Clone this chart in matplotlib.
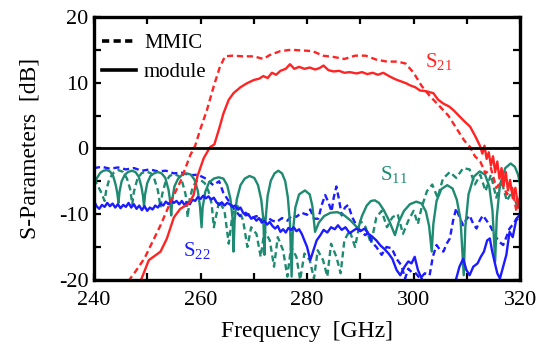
import matplotlib
matplotlib.use("Agg")
import matplotlib.pyplot as plt
from matplotlib.lines import Line2D
from matplotlib.ticker import MultipleLocator

plt.rcParams['font.family'] = ['Liberation Serif', 'DejaVu Serif']
plt.rcParams['mathtext.fontset'] = 'custom'
plt.rcParams['mathtext.rm'] = 'Liberation Serif'
plt.rcParams['mathtext.it'] = 'Liberation Serif:italic'
plt.rcParams['axes.unicode_minus'] = False

# S21 gain, MMIC on-wafer (dashed) and packaged module (solid)
s21_mmic = [(245.5, -21.5), (246.2, -20.5), (248.0, -18.5), (249.5, -16.7), (251.0, -14.2),
            (252.5, -11.7), (254.4, -8.1), (256.2, -5.1), (258.1, -1.0), (259.0, 0.4),
            (260.0, 3.0), (261.2, 5.8), (262.5, 9.5), (263.6, 12.3), (264.6, 14.0),
            (266.0, 14.1), (268.0, 14.0), (270.0, 14.0), (271.8, 13.6), (273.0, 14.2),
            (275.0, 14.8), (277.0, 15.0), (279.0, 14.9), (281.0, 14.8), (283.0, 14.1),
            (285.0, 13.9), (287.0, 13.6), (289.0, 14.1), (291.0, 14.1), (293.0, 13.5),
            (295.0, 13.2), (297.0, 13.2), (298.5, 12.9), (300.0, 11.5), (301.5, 9.5),
            (303.0, 8.0), (305.0, 6.3), (306.5, 5.0), (308.0, 3.1), (309.5, 1.2),
            (310.6, 0.2), (311.5, -1.2), (312.5, -2.0), (313.5, -3.8), (314.5, -3.0),
            (315.5, -6.0), (316.5, -5.0), (317.5, -7.0), (318.5, -6.0), (319.3, -9.6),
            (320.0, -8.0)]

s21_module = [(248.2, -21.5), (248.7, -20.3), (250.3, -17.0), (251.5, -16.3), (252.5, -15.7),
              (253.7, -13.7), (255.0, -10.5), (256.2, -9.2), (257.8, -8.4), (258.7, -7.1),
              (259.4, -4.3), (260.6, -1.5), (261.8, 0.2), (262.6, 0.6), (263.5, 3.0),
              (264.3, 5.3), (265.3, 7.4), (266.2, 8.4), (267.5, 9.3), (268.7, 9.9),
              (270.0, 10.4), (271.0, 10.6), (271.8, 11.0), (272.6, 10.7), (273.4, 11.5),
              (274.2, 11.2), (275.0, 11.8), (276.0, 12.1), (276.8, 12.8), (277.6, 12.1),
              (278.5, 12.4), (279.5, 12.1), (280.5, 12.3), (281.5, 12.0), (282.3, 12.2),
              (283.1, 12.6), (284.0, 11.9), (285.0, 11.7), (286.0, 11.8), (287.0, 11.5),
              (288.0, 11.6), (289.3, 11.4), (290.3, 11.6), (291.3, 11.3), (292.3, 11.5),
              (293.3, 11.2), (294.3, 11.5), (295.6, 10.9), (296.6, 10.5), (297.6, 10.2),
              (298.6, 9.9), (299.3, 9.6), (300.3, 9.3), (301.2, 8.8), (302.3, 8.7),
              (303.7, 8.4), (304.6, 7.4), (305.6, 6.8), (306.6, 6.4), (307.5, 5.8),
              (308.1, 5.3), (309.3, 4.3), (310.6, 3.3), (311.6, 1.8), (312.5, 0.3),
              (312.9, -0.8), (313.3, 0.4), (313.7, -1.6), (314.1, -0.6), (314.5, -2.6),
              (314.9, -1.2), (315.3, -3.6), (315.7, -2.0), (316.1, -4.6), (316.5, -3.0),
              (316.9, -5.6), (317.3, -3.6), (317.7, -6.4), (318.1, -4.8), (318.6, -7.6),
              (319.1, -6.0), (319.6, -8.8), (320.0, -7.2)]

# S11 input reflection
s11_module = [(240.0, -6.0), (240.5, -4.6), (241.2, -3.7), (241.8, -3.4), (242.4, -3.3),
              (243.0, -3.5), (243.6, -4.2), (244.1, -5.6), (244.4, -6.9), (244.6, -8.3),
              (244.8, -6.6), (245.2, -5.0), (245.8, -4.0), (246.4, -3.6), (247.1, -3.4),
              (247.8, -3.6), (248.4, -4.3), (248.9, -5.8), (249.2, -7.2), (249.4, -8.8),
              (249.6, -7.0), (250.0, -5.3), (250.6, -4.2), (251.3, -3.8), (252.0, -3.6),
              (252.7, -3.8), (253.4, -4.5), (254.0, -6.3), (254.3, -8.0), (254.5, -10.2),
              (254.7, -7.8), (255.1, -5.8), (255.8, -4.6), (256.6, -4.0), (257.4, -3.8),
              (258.2, -4.0), (258.9, -4.8), (259.5, -6.5), (259.9, -8.8), (260.2, -12.0),
              (260.4, -9.0), (260.9, -6.6), (261.6, -5.2), (262.5, -4.6), (263.4, -4.4),
              (264.3, -4.6), (265.0, -5.6), (265.6, -7.6), (266.0, -10.5), (266.2, -15.7),
              (266.4, -11.0), (266.8, -7.8), (267.5, -5.6), (268.3, -4.6), (269.2, -4.2),
              (270.1, -4.5), (270.8, -5.6), (271.4, -7.8), (271.8, -10.8), (272.0, -16.2),
              (272.2, -11.0), (272.6, -7.2), (273.2, -4.9), (273.9, -3.8), (274.6, -3.4),
              (275.3, -3.8), (275.9, -5.0), (276.4, -7.5), (276.8, -11.5), (277.1, -19.5),
              (277.3, -13.0), (277.8, -9.0), (278.5, -7.0), (279.6, -6.4), (280.5, -7.0),
              (281.0, -8.8), (281.5, -12.7), (282.2, -11.3), (283.2, -10.3), (284.4, -9.8),
              (285.7, -9.7), (287.0, -10.2), (288.2, -11.0), (289.6, -12.2), (290.3, -10.3),
              (291.2, -8.7), (292.0, -8.0), (292.7, -7.9), (293.5, -8.3), (294.4, -9.4),
              (295.4, -11.0), (296.5, -13.2), (297.2, -11.2), (298.2, -9.5), (299.3, -8.5),
              (300.5, -8.1), (301.5, -8.4), (302.3, -9.6), (302.9, -11.8), (303.4, -15.7),
              (303.7, -11.5), (304.3, -8.0), (305.2, -6.2), (306.3, -5.6), (307.3, -6.1),
              (308.1, -7.8), (308.8, -10.8), (309.4, -19.3), (309.7, -12.0), (310.3, -7.0),
              (311.3, -4.3), (312.4, -3.5), (313.4, -4.0), (314.2, -5.8), (314.8, -9.5),
              (315.3, -17.2), (315.6, -10.5), (316.2, -5.5), (317.2, -3.0), (318.2, -2.3),
              (319.0, -2.8), (319.6, -4.0), (320.0, -5.5)]

s11_mmic = [(240.0, -4.6), (240.6, -5.5), (241.3, -6.6), (241.8, -7.6), (242.0, -8.0),
            (242.3, -6.4), (242.9, -4.6), (243.7, -3.7), (244.6, -3.3), (245.5, -3.6),
            (246.2, -4.6), (246.8, -6.2), (247.2, -8.5), (247.5, -6.6), (248.1, -4.8),
            (248.9, -3.8), (249.8, -3.5), (250.7, -3.8), (251.4, -4.8), (252.0, -6.4),
            (252.5, -9.0), (252.8, -7.0), (253.4, -5.2), (254.2, -4.2), (255.0, -3.9),
            (255.9, -4.2), (256.6, -5.2), (257.2, -7.0), (257.6, -10.5), (257.9, -8.0),
            (258.5, -6.0), (259.2, -5.0), (260.0, -4.8), (260.8, -5.3), (261.5, -6.5),
            (262.1, -8.5), (262.5, -12.0), (263.5, -8.0), (264.5, -9.5), (265.3, -14.5),
            (266.0, -10.0), (267.0, -8.8), (268.0, -11.0), (268.8, -15.0), (269.5, -12.0),
            (270.5, -13.0), (271.3, -16.5), (272.0, -12.5), (273.0, -14.0), (273.8, -18.0),
            (274.5, -13.5), (275.5, -15.5), (276.3, -19.5), (277.0, -15.0), (278.0, -16.5),
            (278.7, -20.0), (279.5, -16.0), (280.5, -17.0), (281.3, -19.8), (282.0, -15.5),
            (283.0, -17.0), (283.8, -19.5), (284.5, -14.5), (285.5, -16.5), (286.3, -19.0),
            (287.0, -14.0), (288.0, -12.5), (289.0, -15.0), (290.0, -11.0), (291.0, -12.0),
            (292.0, -14.5), (293.0, -10.5), (294.0, -9.5), (295.0, -12.0), (296.0, -10.5),
            (297.0, -10.0), (298.0, -13.0), (299.0, -11.0), (300.0, -9.5), (300.8, -11.5),
            (301.5, -9.0), (302.5, -6.5), (303.5, -5.5), (304.5, -7.5), (305.5, -4.6),
            (306.8, -3.6), (308.0, -4.5), (309.3, -3.0), (310.5, -3.2), (311.5, -5.5),
            (312.5, -4.0), (313.5, -6.5), (314.5, -4.0), (315.5, -7.5), (316.5, -5.0),
            (317.5, -8.0), (318.5, -6.5), (319.5, -9.0), (320.0, -8.0)]

# S22 output reflection
s22_module = [(240.0, -8.0), (240.5, -8.8), (241.0, -9.2), (241.5, -8.6), (242.0, -8.9),
              (242.5, -8.3), (243.0, -8.8), (243.5, -8.4), (244.0, -9.0), (244.5, -8.5),
              (245.0, -9.1), (245.5, -8.6), (246.0, -8.9), (246.5, -8.3), (247.0, -9.0),
              (247.5, -8.5), (248.0, -9.2), (248.5, -8.7), (249.0, -9.4), (249.5, -8.8),
              (250.0, -9.5), (250.5, -9.0), (251.0, -9.3), (251.5, -8.7), (252.0, -9.0),
              (252.5, -8.4), (253.0, -8.7), (253.5, -8.1), (254.0, -8.5), (254.5, -7.9),
              (255.0, -8.3), (255.5, -8.0), (256.0, -8.5), (256.5, -8.0), (257.0, -8.6),
              (257.5, -8.2), (258.0, -8.5), (258.5, -7.8), (259.0, -8.0), (259.5, -7.4),
              (260.0, -7.7), (260.5, -7.2), (261.0, -7.6), (261.5, -7.3), (262.0, -7.8),
              (262.5, -7.5), (263.0, -8.2), (263.5, -8.6), (264.0, -8.2), (264.5, -8.7),
              (265.0, -8.3), (265.5, -8.5), (266.0, -8.9), (266.5, -8.7), (267.0, -9.3),
              (267.5, -9.0), (268.0, -9.8), (268.5, -10.2), (269.0, -10.0), (269.5, -10.7),
              (270.0, -10.5), (270.5, -11.0), (271.0, -10.6), (271.5, -11.3), (272.0, -11.0),
              (272.5, -11.6), (273.0, -11.2), (273.5, -11.8), (274.0, -12.2), (274.5, -11.8),
              (275.0, -12.7), (275.5, -12.3), (276.0, -12.8), (276.5, -12.1), (277.0, -12.4),
              (277.5, -12.0), (278.0, -12.6), (278.5, -12.3), (279.0, -13.0), (279.5, -14.0),
              (280.0, -15.0), (280.6, -17.0), (281.2, -15.5), (281.8, -14.0), (282.5, -13.2),
              (283.1, -12.4), (283.8, -12.8), (284.5, -12.0), (285.2, -12.3), (285.8, -11.7),
              (286.5, -12.4), (287.2, -12.0), (288.0, -12.9), (288.7, -12.5), (289.3, -12.2),
              (290.0, -12.6), (290.8, -12.2), (291.5, -13.0), (292.2, -13.4), (293.0, -14.0),
              (293.8, -14.8), (294.5, -15.3), (295.3, -16.0), (296.0, -16.8), (296.8, -18.5),
              (297.5, -19.3), (298.3, -18.0), (299.0, -17.2), (299.6, -17.5), (300.2, -16.5),
              (300.8, -18.5), (301.5, -19.8), (302.0, -21.0), (307.5, -21.0), (308.0, -19.8),
              (308.6, -18.0), (309.3, -16.8), (309.9, -18.5), (310.5, -19.3), (311.2, -18.0),
              (312.0, -17.5), (312.6, -16.5), (313.2, -15.7), (313.8, -14.0), (314.3, -13.7),
              (314.7, -15.5), (315.2, -17.3), (315.7, -19.0), (316.2, -19.8), (316.8, -18.0),
              (317.4, -16.2), (318.0, -12.7), (318.6, -13.5), (319.3, -10.7), (320.0, -10.0)]

s22_mmic = [(240.0, -3.0), (241.5, -2.8), (243.0, -3.1), (244.5, -2.9), (246.0, -3.2),
            (247.5, -3.0), (249.0, -3.4), (250.5, -3.2), (252.0, -3.5), (253.5, -3.4),
            (255.0, -3.8), (256.5, -3.7), (258.0, -4.1), (259.5, -4.0), (261.0, -4.6),
            (262.4, -5.6), (263.5, -5.0), (264.3, -6.8), (265.3, -8.0), (266.3, -9.2),
            (267.4, -10.3), (268.5, -9.8), (269.5, -10.6), (270.5, -10.3), (271.5, -10.9),
            (272.5, -10.5), (273.5, -11.0), (274.3, -11.2), (275.3, -10.6), (276.3, -11.0),
            (277.2, -10.2), (278.0, -10.4), (279.0, -9.8), (280.0, -10.1), (280.6, -9.3),
            (281.3, -10.7), (282.1, -10.7), (282.8, -8.5), (283.4, -7.1), (284.0, -8.2),
            (284.6, -9.6), (285.0, -7.5), (285.5, -5.8), (286.0, -7.8), (286.5, -10.2),
            (287.1, -9.0), (287.7, -8.6), (288.5, -10.5), (289.3, -11.8), (290.0, -12.5),
            (290.9, -13.2), (291.5, -12.8), (292.1, -14.2), (293.0, -15.0), (294.0, -16.2),
            (294.9, -15.0), (295.9, -15.2), (296.8, -16.8), (297.7, -17.8), (298.4, -19.8),
            (299.0, -18.3), (299.6, -18.8), (300.4, -19.0), (301.2, -19.8), (302.1, -19.0),
            (303.0, -19.3), (303.6, -16.5), (304.3, -14.7), (305.0, -15.5), (305.6, -15.7),
            (306.2, -14.5), (306.8, -13.7), (307.4, -11.0), (308.0, -9.1), (308.6, -10.5),
            (309.3, -11.7), (309.9, -10.8), (310.5, -10.2), (311.2, -11.5), (311.8, -12.2),
            (312.4, -11.0), (313.0, -10.2), (313.7, -11.0), (314.3, -11.7), (315.0, -12.8),
            (315.6, -13.7), (316.2, -14.3), (316.8, -14.7), (317.4, -13.5), (318.0, -12.2),
            (318.7, -11.5), (319.3, -10.7), (320.0, -11.2)]

red = '#ff2424'
teal = '#1f8a72'
blue = '#1c1cff'
dash = (2.6, 1.6)
lw = 1.7

fig = plt.figure(figsize=(5.43, 3.52), dpi=100)
ax = fig.add_axes([0.173, 0.205, 0.785, 0.747])

def curve(data, color, dashed):
    f = [p[0] for p in data]
    v = [p[1] for p in data]
    line, = ax.plot(f, v, color=color, lw=lw)
    if dashed:
        line.set_dashes(dash)
    return line

curve(s11_mmic, teal, True)
curve(s22_mmic, blue, True)
curve(s11_module, teal, False)
curve(s22_module, blue, False)
curve(s21_mmic, red, True)
curve(s21_module, red, False)

ax.axhline(0, color='black', lw=2.0, zorder=5)

ax.set_xlim(240, 320)
ax.set_ylim(-20, 20)
ax.xaxis.set_major_locator(MultipleLocator(20))
ax.xaxis.set_minor_locator(MultipleLocator(10))
ax.yaxis.set_major_locator(MultipleLocator(10))
ax.yaxis.set_minor_locator(MultipleLocator(5))
ax.tick_params(which='both', direction='in', top=True, right=True,
               length=5, width=1.6, labelsize=16)
ax.tick_params(axis='x', pad=8)
ax.tick_params(axis='y', pad=4)

for s in ax.spines.values():
    s.set_linewidth(2.4)

ax.set_xlabel('Frequency  [GHz]', fontsize=17, labelpad=8)
ax.set_ylabel('S-Parameters  [dB]', fontsize=17, labelpad=13)

# curve labels
ax.text(302.2, 12.4, r'S$_{21}$', color=red, fontsize=15, va='baseline')
ax.text(293.7, -4.8, r'S$_{11}$', color=teal, fontsize=15, va='baseline')
ax.text(256.7, -16.3, r'S$_{22}$', color=blue, fontsize=15, va='baseline')

# legend
h1 = Line2D([], [], color='black', lw=2.6, dashes=(2.0, 1.2))
h2 = Line2D([], [], color='black', lw=2.6)
ax.legend([h1, h2], ['MMIC', 'module'], loc='upper left', frameon=False,
          fontsize=15, handlelength=1.6, handletextpad=0.4, labelspacing=0.45,
          borderaxespad=0.1, bbox_to_anchor=(-0.005, 0.975))

fig.savefig('out.png', dpi=100)
